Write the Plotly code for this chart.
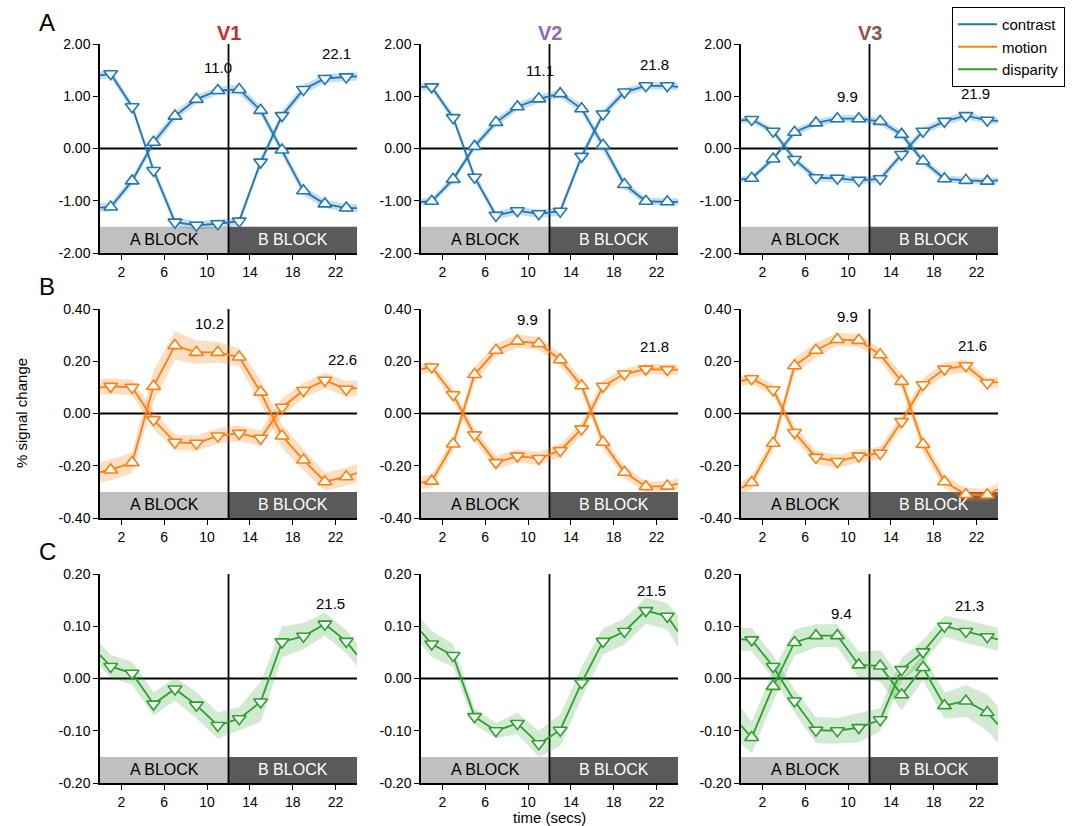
import plotly.graph_objects as go

# ---------------- data ----------------
t_full = [0, 1, 3, 5, 7, 9, 11, 13, 15, 17, 19, 21, 23, 24]

x_ticks = [2, 6, 10, 14, 18, 22]
x_ticklabels = ["2", "6", "10", "14", "18", "22"]

yticks_A = [-2, -1, 0, 1, 2]
ylabels_A = ["-2.00", "-1.00", "0.00", "1.00", "2.00"]
yticks_B = [-0.4, -0.2, 0, 0.2, 0.4]
ylabels_B = ["-0.40", "-0.20", "0.00", "0.20", "0.40"]
yticks_C = [-0.2, -0.1, 0, 0.1, 0.2]
ylabels_C = ["-0.20", "-0.10", "0.00", "0.10", "0.20"]

areas = ["V1", "V2", "V3"]
area_colors = ["#d62728", "#9467bd", "#8c564b"]
conditions = ["contrast", "motion", "disparity"]
cond_colors = ["#1f77b4", "#ff7f0e", "#2ca02c"]
cond_fill = ["rgba(31,119,180,0.25)", "rgba(255,127,14,0.25)", "rgba(44,160,44,0.22)"]

# contrast (row A)
v1_con_down = [1.40, 1.43, 0.80, -0.42, -1.41, -1.47, -1.44, -1.39, -0.26, 0.63, 1.13, 1.34, 1.37, 1.38]
v1_con_up = [-1.13, -1.12, -0.62, 0.12, 0.62, 0.94, 1.11, 1.13, 0.73, -0.03, -0.81, -1.06, -1.14, -1.14]
v2_con_down = [1.18, 1.18, 0.59, -0.55, -1.28, -1.19, -1.25, -1.20, -0.15, 0.66, 1.08, 1.20, 1.20, 1.18]
v2_con_up = [-1.02, -1.01, -0.59, 0.04, 0.50, 0.80, 0.95, 1.05, 0.76, 0.06, -0.69, -1.01, -1.02, -1.02]
v3_con_down = [0.54, 0.555, 0.33, -0.21, -0.56, -0.57, -0.61, -0.58, -0.115, 0.33, 0.52, 0.63, 0.54, 0.53]
v3_con_up = [-0.59, -0.57, -0.20, 0.31, 0.49, 0.57, 0.57, 0.52, 0.27, -0.24, -0.58, -0.61, -0.625, -0.61]

# motion (row B)
v1_mot_down = [0.10, 0.104, 0.10, -0.024, -0.11, -0.114, -0.086, -0.076, -0.095, 0.024, 0.088, 0.127, 0.093, 0.097]
v1_mot_up = [-0.225, -0.216, -0.188, 0.104, 0.26, 0.234, 0.234, 0.216, 0.082, -0.086, -0.178, -0.261, -0.242, -0.228]
v2_mot_down = [0.17, 0.178, 0.072, -0.082, -0.188, -0.163, -0.172, -0.142, -0.059, 0.104, 0.151, 0.170, 0.168, 0.168]
v2_mot_up = [-0.265, -0.259, -0.117, 0.149, 0.242, 0.277, 0.268, 0.206, 0.106, -0.11, -0.225, -0.28, -0.278, -0.268]
v3_mot_down = [0.125, 0.133, 0.091, -0.073, -0.168, -0.184, -0.163, -0.152, -0.031, 0.11, 0.17, 0.183, 0.117, 0.12]
v3_mot_up = [-0.285, -0.264, -0.114, 0.183, 0.242, 0.283, 0.28, 0.225, 0.123, -0.118, -0.261, -0.31, -0.312, -0.29]

# disparity (row C)
v1_dis_down = [0.045, 0.023, 0.010, -0.049, -0.020, -0.051, -0.090, -0.077, -0.045, 0.070, 0.081, 0.104, 0.071, 0.045]
v2_dis_down = [0.09, 0.066, 0.044, -0.073, -0.10, -0.086, -0.125, -0.099, -0.008, 0.071, 0.090, 0.13, 0.119, 0.09]
v3_dis_down = [0.075, 0.074, 0.023, -0.043, -0.099, -0.10, -0.094, -0.079, 0.017, 0.051, 0.10, 0.09, 0.08, 0.075]
v3_dis_up = [-0.09, -0.113, -0.015, 0.069, 0.082, 0.082, 0.026, 0.024, -0.031, 0.021, -0.052, -0.043, -0.065, -0.088]

# error half-widths (shaded bands)
v1_con_down_err = [0.08, 0.08, 0.08, 0.09, 0.09, 0.08, 0.08, 0.08, 0.09, 0.09, 0.09, 0.08, 0.08, 0.08]
v1_con_up_err = [0.08, 0.08, 0.08, 0.09, 0.09, 0.08, 0.08, 0.09, 0.09, 0.09, 0.09, 0.08, 0.08, 0.08]
v2_con_down_err = [0.07, 0.07, 0.08, 0.09, 0.08, 0.08, 0.08, 0.08, 0.09, 0.08, 0.08, 0.07, 0.07, 0.07]
v2_con_up_err = [0.07, 0.07, 0.07, 0.08, 0.08, 0.08, 0.08, 0.08, 0.08, 0.09, 0.08, 0.07, 0.07, 0.07]
v3_con_down_err = [0.06, 0.06, 0.06, 0.07, 0.07, 0.07, 0.07, 0.07, 0.07, 0.07, 0.07, 0.07, 0.06, 0.06]
v3_con_up_err = [0.06, 0.06, 0.06, 0.07, 0.07, 0.07, 0.07, 0.07, 0.07, 0.07, 0.07, 0.06, 0.06, 0.06]

v1_mot_down_err = [0.03, 0.03, 0.03, 0.035, 0.03, 0.03, 0.03, 0.03, 0.03, 0.035, 0.03, 0.03, 0.03, 0.03]
v1_mot_up_err = [0.04, 0.04, 0.04, 0.06, 0.055, 0.045, 0.04, 0.035, 0.045, 0.045, 0.04, 0.035, 0.035, 0.035]
v2_mot_down_err = [0.02, 0.02, 0.025, 0.025, 0.025, 0.025, 0.025, 0.025, 0.025, 0.025, 0.02, 0.02, 0.02, 0.02]
v2_mot_up_err = [0.025, 0.025, 0.025, 0.03, 0.025, 0.025, 0.025, 0.025, 0.025, 0.025, 0.025, 0.02, 0.02, 0.02]
v3_mot_down_err = [0.02, 0.02, 0.02, 0.025, 0.025, 0.025, 0.025, 0.025, 0.025, 0.025, 0.025, 0.025, 0.02, 0.02]
v3_mot_up_err = [0.025, 0.025, 0.025, 0.03, 0.03, 0.025, 0.025, 0.025, 0.03, 0.03, 0.025, 0.025, 0.025, 0.025]

v1_dis_down_err = [0.022, 0.022, 0.022, 0.022, 0.022, 0.025, 0.025, 0.022, 0.038, 0.03, 0.025, 0.022, 0.022, 0.022]
v2_dis_down_err = [0.025, 0.025, 0.022, 0.015, 0.015, 0.02, 0.025, 0.03, 0.03, 0.025, 0.025, 0.025, 0.025, 0.03]
v3_dis_down_err = [0.022, 0.022, 0.022, 0.022, 0.025, 0.025, 0.028, 0.022, 0.022, 0.022, 0.02, 0.022, 0.022, 0.022]
v3_dis_up_err = [0.035, 0.03, 0.03, 0.025, 0.022, 0.022, 0.025, 0.03, 0.03, 0.025, 0.025, 0.03, 0.035, 0.035]

# value labels: (text, x position, y position)
labels_A = [
    [("11.0", 11.0, 1.55), ("22.1", 22.1, 1.82)],
    [("11.1", 11.1, 1.49), ("21.8", 21.8, 1.61)],
    [("9.9", 9.9, 0.99), ("21.9", 21.9, 1.05)],
]
labels_B = [
    [("10.2", 10.2, 0.343), ("22.6", 22.6, 0.206)],
    [("9.9", 9.9, 0.36), ("21.8", 21.8, 0.257)],
    [("9.9", 9.9, 0.373), ("21.6", 21.6, 0.261)],
]
labels_C = [
    [("21.5", 21.5, 0.143)],
    [("21.5", 21.5, 0.169)],
    [("9.4", 9.4, 0.125), ("21.3", 21.3, 0.14)],
]

block_labels = ["A BLOCK", "B BLOCK"]
row_letters = ["A", "B", "C"]

# series per panel: (values, errors, marker symbol)
panels = [
    [
        [(v1_con_down, v1_con_down_err, "triangle-down"), (v1_con_up, v1_con_up_err, "triangle-up")],
        [(v2_con_down, v2_con_down_err, "triangle-down"), (v2_con_up, v2_con_up_err, "triangle-up")],
        [(v3_con_down, v3_con_down_err, "triangle-down"), (v3_con_up, v3_con_up_err, "triangle-up")],
    ],
    [
        [(v1_mot_down, v1_mot_down_err, "triangle-down"), (v1_mot_up, v1_mot_up_err, "triangle-up")],
        [(v2_mot_down, v2_mot_down_err, "triangle-down"), (v2_mot_up, v2_mot_up_err, "triangle-up")],
        [(v3_mot_down, v3_mot_down_err, "triangle-down"), (v3_mot_up, v3_mot_up_err, "triangle-up")],
    ],
    [
        [(v1_dis_down, v1_dis_down_err, "triangle-down")],
        [(v2_dis_down, v2_dis_down_err, "triangle-down")],
        [(v3_dis_down, v3_dis_down_err, "triangle-down"), (v3_dis_up, v3_dis_up_err, "triangle-up")],
    ],
]
row_ticks = [(yticks_A, ylabels_A), (yticks_B, ylabels_B), (yticks_C, ylabels_C)]
row_labels = [labels_A, labels_B, labels_C]

# ---------------- layout geometry ----------------
W, H = 1077, 826
col_px = [(100, 357), (421, 678), (741, 998)]
row_px = [(44, 253), (309, 518), (574, 783)]
FONT = "Liberation Sans, Arial, Helvetica, sans-serif"

fig = go.Figure()
shapes = []
annotations = []
layout_axes = {}

for r in range(3):
    yt, yl = row_ticks[r]
    ymin, ymax = yt[0], yt[-1]
    band_top = ymin + 0.125 * (ymax - ymin)
    for c in range(3):
        k = r * 3 + c + 1
        xa = "x" if k == 1 else f"x{k}"
        ya = "y" if k == 1 else f"y{k}"
        xkey = "xaxis" if k == 1 else f"xaxis{k}"
        ykey = "yaxis" if k == 1 else f"yaxis{k}"
        x0p, x1p = col_px[c]
        y0p, y1p = row_px[r]
        layout_axes[xkey] = dict(
            domain=[x0p / W, x1p / W], anchor=ya, range=[0, 24],
            tickvals=x_ticks, ticktext=x_ticklabels,
            showline=True, linecolor="black", linewidth=1.5,
            ticks="outside", ticklen=5, tickwidth=1.3, tickcolor="black",
            showgrid=False, zeroline=False, automargin=False,
            tickfont=dict(size=14, color="black", family=FONT),
        )
        layout_axes[ykey] = dict(
            domain=[1 - y1p / H, 1 - y0p / H], anchor=xa, range=[ymin, ymax],
            tickvals=yt, ticktext=yl,
            showline=True, linecolor="black", linewidth=1.5,
            ticks="outside", ticklen=5, tickwidth=1.3, tickcolor="black",
            showgrid=False, zeroline=False, automargin=False,
            tickfont=dict(size=14, color="black", family=FONT),
        )
        # blocks
        shapes.append(dict(type="rect", xref=xa, yref=ya, x0=0, x1=12, y0=ymin, y1=band_top,
                           fillcolor="#c0c0c0", line=dict(width=0), layer="below"))
        shapes.append(dict(type="rect", xref=xa, yref=ya, x0=12, x1=24, y0=ymin, y1=band_top,
                           fillcolor="#5a5a5a", line=dict(width=0), layer="below"))
        shapes.append(dict(type="line", xref=xa, yref=ya, x0=0, x1=24, y0=0, y1=0,
                           line=dict(color="black", width=1.8), layer="below"))
        shapes.append(dict(type="line", xref=xa, yref=ya, x0=12, x1=12, y0=ymin, y1=ymax,
                           line=dict(color="black", width=1.8), layer="below"))
        annotations.append(dict(x=6, y=(ymin + band_top) / 2, xref=xa, yref=ya, text=block_labels[0],
                                xanchor="center", yanchor="middle",
                                showarrow=False, font=dict(size=16, color="black", family=FONT)))
        annotations.append(dict(x=18, y=(ymin + band_top) / 2, xref=xa, yref=ya, text=block_labels[1],
                                xanchor="center", yanchor="middle",
                                showarrow=False, font=dict(size=16, color="white", family=FONT)))
        for txt, lx, ly in row_labels[r][c]:
            annotations.append(dict(x=lx, y=ly, xref=xa, yref=ya, text=txt, showarrow=False,
                                    xanchor="center", yanchor="middle",
                                    font=dict(size=15, color="black", family=FONT)))
        # data
        for vals, errs, sym in panels[r][c]:
            up = [v + e for v, e in zip(vals, errs)]
            lo = [v - e for v, e in zip(vals, errs)]
            fig.add_trace(go.Scatter(x=t_full + t_full[::-1], y=up + lo[::-1], fill="toself",
                                     fillcolor=cond_fill[r], line=dict(width=0), mode="lines",
                                     hoverinfo="skip", showlegend=False, xaxis=xa, yaxis=ya))
        for vals, errs, sym in panels[r][c]:
            fig.add_trace(go.Scatter(x=t_full, y=vals, mode="lines",
                                     line=dict(color=cond_colors[r], width=1.8),
                                     showlegend=False, xaxis=xa, yaxis=ya))
            fig.add_trace(go.Scatter(x=t_full[1:-1], y=vals[1:-1], mode="markers",
                                     marker=dict(symbol=sym, size=12, color="white",
                                                 line=dict(color=cond_colors[r], width=1.6)),
                                     showlegend=False, xaxis=xa, yaxis=ya))

# legend entries
for name, col in zip(conditions, cond_colors):
    fig.add_trace(go.Scatter(x=[None], y=[None], mode="lines", name=name,
                             line=dict(color=col, width=2), xaxis="x", yaxis="y"))

# column titles
title_x = [228.5, 549.5, 869.5]
for c in range(3):
    annotations.append(dict(x=title_x[c] / W, y=1 - 33 / H, xref="paper", yref="paper",
                            xanchor="center", yanchor="middle",
                            text=f"<b>{areas[c]}</b>", showarrow=False,
                            font=dict(size=20, color=area_colors[c], family=FONT)))
# row letters
letter_y = [22, 287, 551]
for r in range(3):
    annotations.append(dict(x=47 / W, y=1 - letter_y[r] / H, xref="paper", yref="paper",
                            xanchor="center", yanchor="middle",
                            text=row_letters[r], showarrow=False,
                            font=dict(size=24, color="black", family=FONT)))
# axis labels
annotations.append(dict(x=21 / W, y=1 - 413 / H, xref="paper", yref="paper", text="% signal change",
                        xanchor="center", yanchor="middle",
                        textangle=-90, showarrow=False, font=dict(size=15, color="black", family=FONT)))
annotations.append(dict(x=549 / W, y=1 - 817 / H, xref="paper", yref="paper", text="time (secs)",
                        xanchor="center", yanchor="middle",
                        showarrow=False, font=dict(size=15, color="black", family=FONT)))

fig.update_layout(
    width=W, height=H, margin=dict(l=0, r=0, t=0, b=0, pad=0, autoexpand=False),
    paper_bgcolor="white", plot_bgcolor="white",
    shapes=shapes, annotations=annotations,
    showlegend=True,
    legend=dict(x=952 / W, y=1 - 7 / H, xanchor="left", yanchor="top",
                bordercolor="black", borderwidth=1, bgcolor="white", itemwidth=39,
                font=dict(size=15, color="black", family=FONT), tracegroupgap=0),
    font=dict(family=FONT),
    **layout_axes,
)

fig.write_html("out.html")
